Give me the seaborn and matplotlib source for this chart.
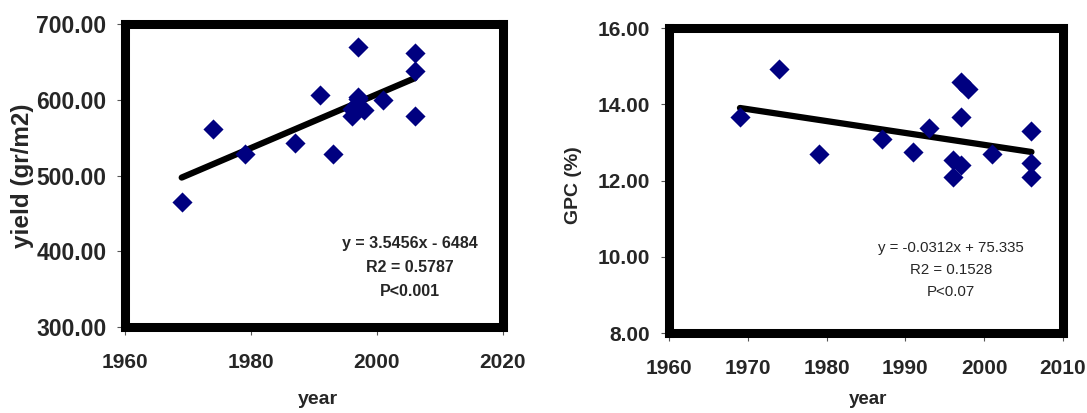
import numpy as np
import pandas as pd
import matplotlib
matplotlib.use("Agg")
import matplotlib.pyplot as plt
import seaborn as sns

# yield panel
yield_years = [1969, 1974, 1979, 1987, 1991, 1993, 1996, 1996, 1997, 1997, 1997, 1998, 2001, 2006, 2006, 2006]
yield_vals = [465, 561, 529, 543, 606, 529, 578, 588, 669, 601, 603, 586, 600, 662, 638, 578]
yield_slope, yield_icpt = 3.5456, -6484
yield_text = ["y = 3.5456x - 6484", "R2 = 0.5787", "P<0.001"]
yield_yticks = [300, 400, 500, 600, 700]
yield_xticks = [1960, 1980, 2000, 2020]

# GPC panel
gpc_years = [1969, 1974, 1979, 1987, 1991, 1993, 1996, 1996, 1997, 1997, 1997, 1998, 2001, 2006, 2006, 2006]
gpc_vals = [13.67, 14.92, 12.69, 13.08, 12.75, 13.37, 12.54, 12.08, 14.59, 13.67, 12.40, 14.40, 12.69, 13.30, 12.46, 12.08]
gpc_slope, gpc_icpt = -0.0312, 75.335
gpc_text = ["y = -0.0312x + 75.335", "R2 = 0.1528", "P<0.07"]
gpc_yticks = [8, 10, 12, 14, 16]
gpc_xticks = [1960, 1970, 1980, 1990, 2000, 2010]

sns.set_style("white")
plt.rcParams["font.family"] = ["Liberation Sans", "DejaVu Sans"]

NAVY = "#000080"


def panel(ax, years, vals, slope, icpt, xticks, yticks, ysize, text, text_pos, tsize, step, bold_text):
    df = pd.DataFrame({"year": years, "val": vals})
    sns.scatterplot(data=df, x="year", y="val", marker="D", s=105, color=NAVY,
                    edgecolor=NAVY, linewidth=0, ax=ax, zorder=3)
    xl = np.array([min(years), max(years)])
    sns.lineplot(x=xl, y=slope * xl + icpt, color="black", linewidth=4.5, ax=ax, zorder=2)
    ax.set_xlim(xticks[0], xticks[-1])
    ax.set_ylim(yticks[0], yticks[-1])
    ax.set_xticks(xticks)
    ax.set_yticks(yticks)
    ax.set_yticklabels([f"{v:.2f}" for v in yticks])
    for s in ax.spines.values():
        s.set_visible(True)
        s.set_linewidth(6.5)
        s.set_color("black")
    ax.tick_params(axis="both", direction="out", length=5.5, width=0.8, color="#555555",
                   bottom=True, left=True)
    ax.tick_params(axis="x", pad=13, labelsize=15)
    ax.tick_params(axis="y", pad=8, labelsize=ysize)
    for lab in ax.get_xticklabels() + ax.get_yticklabels():
        lab.set_fontweight("bold")
    ax.set_xlabel("")
    ax.set_ylabel("")
    if bold_text:
        fam = ["Liberation Sans Narrow", "Liberation Sans"]
        wt = "bold"
    else:
        fam = ["Liberation Sans", "DejaVu Sans"]
        wt = "normal"
    tx, ty = text_pos
    for i, t in enumerate(text):
        ax.text(tx, ty - i * step, t, transform=ax.transAxes, ha="center", va="center",
                fontsize=tsize, family=fam, fontweight=wt)


fig = plt.figure(figsize=(10.87, 4.13), dpi=100)
ax1 = fig.add_axes([0.115, 0.2082, 0.3477, 0.7337])
ax2 = fig.add_axes([0.6155, 0.1937, 0.3624, 0.7385])

panel(ax1, yield_years, yield_vals, yield_slope, yield_icpt, yield_xticks, yield_yticks,
      16.5, yield_text, (0.755, 0.275), 11.5, 0.079, True)
panel(ax2, gpc_years, gpc_vals, gpc_slope, gpc_icpt, gpc_xticks, gpc_yticks,
      15, gpc_text, (0.715, 0.28), 10.8, 0.072, False)

fig.text(22 / 1087, 1 - 176 / 413, "yield (gr/m2)", rotation=90, ha="center", va="center",
         fontsize=17.5, fontweight="bold")
fig.text(318 / 1087, 1 - 400 / 413, "year", ha="center", va="center", fontsize=14,
         fontweight="bold")
fig.text(574 / 1087, 1 - 185 / 413, "GPC (%)", rotation=90, ha="center", va="center",
         fontsize=14, fontweight="bold")
fig.text(868 / 1087, 1 - 400 / 413, "year", ha="center", va="center", fontsize=13.5,
         fontweight="bold")

fig.savefig("out.png", dpi=100)
plt.close(fig)
